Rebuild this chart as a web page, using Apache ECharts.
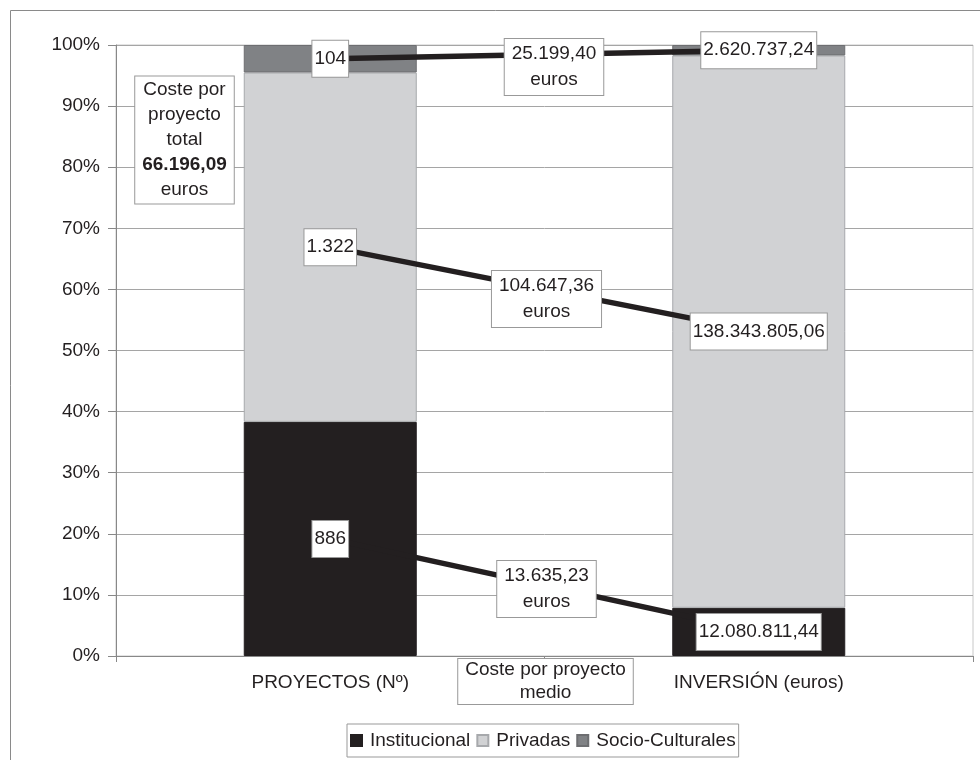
<!DOCTYPE html>
<html>
<head>
<meta charset="utf-8">
<script src="https://cdn.jsdelivr.net/npm/echarts@6/dist/echarts.min.js"></script>
<style>
  html, body { margin: 0; padding: 0; background: #fff; }
  #chart { width: 980px; height: 760px; }
</style>
</head>
<body>
<div id="chart"></div>
<script>
// datos
const categories = ['PROYECTOS (Nº)', 'INVERSIÓN (euros)'];
const decimals = [0, 2];
const seriesNames = ['Institucional', 'Privadas', 'Socio-Culturales'];
const institucional = [886, 12080811.44];
const privadas = [1322, 138343805.06];
const socioCulturales = [104, 2620737.24];
const yTicks = [0, 100, 10];

const FONT = 'Liberation Sans, Arial, sans-serif';
const colors = ['#231f20', '#d1d2d4', '#808285'];
const borders = ['#231f20', '#a7a9ac', '#6d6e71'];

function esNum (v, d) {
  const s = v.toFixed(d).split('.');
  const ent = s[0].replace(/\B(?=(\d{3})+(?!\d))/g, '.');
  return d ? ent + ',' + s[1] : ent;
}

const raw = [institucional, privadas, socioCulturales];
const totals = categories.map((c, i) => raw.reduce((a, r) => a + r[i], 0));
const pct = raw.map(r => r.map((v, i) => v / totals[i] * 100));
// centro de cada tramo apilado
const centers = pct.map((p, k) => p.map((v, i) => {
  let base = 0;
  for (let j = 0; j < k; j++) base += pct[j][i];
  return base + v / 2;
}));
// coste por proyecto = inversión / proyectos
const costes = raw.map(r => esNum(r[1] / r[0], 2));
const costeTotal = esNum(totals[1] / totals[0], 2);

const chart = echarts.init(document.getElementById('chart'));

const series = [];
seriesNames.forEach((name, k) => {
  series.push({
    name: name,
    type: 'bar',
    stack: 'total',
    data: pct[k],
    barWidth: 173,
    z: 2,
    itemStyle: { color: colors[k], borderColor: borders[k], borderWidth: 1 }
  });
});
seriesNames.forEach((name, k) => {
  series.push({
    name: 'enlace-' + k,
    type: 'line',
    data: centers[k],
    z: 3,
    silent: true,
    symbol: 'circle',
    symbolSize: 1,
    itemStyle: { color: 'rgba(0,0,0,0)' },
    lineStyle: { color: '#231f20', width: 5.5 },
    label: {
      show: true,
      position: 'inside',
      formatter: p => esNum(raw[k][p.dataIndex], decimals[p.dataIndex]),
      color: '#231f20',
      fontFamily: FONT,
      fontSize: 19,
      backgroundColor: '#fff',
      borderColor: '#999',
      borderWidth: 1,
      padding: [9, 2, 8, 2]
    }
  });
});

function box (x, y, text) {
  return {
    type: 'text',
    x: x,
    y: y,
    z: 100,
    silent: true,
    style: {
      text: text,
      fill: '#231f20',
      font: '19px ' + FONT,
      align: 'center',
      verticalAlign: 'middle',
      textAlign: 'center',
      textVerticalAlign: 'middle',
      lineHeight: 26,
      backgroundColor: '#fff',
      borderColor: '#999',
      borderWidth: 1,
      padding: [2, 7]
    }
  };
}

const graphics = [
  {
    type: 'rect',
    z: 0,
    silent: true,
    shape: { x: 10.5, y: 10.5, width: 1000, height: 1000 },
    style: { fill: 'none', stroke: '#8a8a8a', lineWidth: 1 }
  },
  box(554, 67, costes[2] + '\neuros'),
  box(546.5, 299, costes[1] + '\neuros'),
  box(546.5, 589, costes[0] + '\neuros'),
  box(545.5, 681.5, 'Coste por proyecto\nmedio'),
  box(184.5, 140, 'Coste por\nproyecto\ntotal\n{b|' + costeTotal + '}\neuros')
];
graphics[5].style.lineHeight = 25;
graphics[5].style.padding = [1, 7];
graphics[5].style.rich = { b: { fontWeight: 'bold', fontSize: 19, fontFamily: FONT, lineHeight: 25 } };
graphics[4].style.lineHeight = 22.5;
graphics[4].style.padding = [0, 7];

const option = {
  animation: false,
  textStyle: { fontFamily: FONT },
  grid: {
    left: 116,
    right: 7,
    top: 45,
    bottom: 104,
    show: true,
    borderColor: '#c8c8c8',
    borderWidth: 1,
    backgroundColor: 'transparent'
  },
  legend: {
    data: seriesNames,
    left: 347,
    top: 724,
    padding: [7, 3],
    itemGap: 6,
    itemWidth: 11,
    itemHeight: 11,
    icon: 'rect',
    borderColor: '#999',
    borderWidth: 1,
    backgroundColor: '#fff',
    textStyle: { fontFamily: FONT, fontSize: 19, color: '#231f20', padding: [0, 0, 0, 3] }
  },
  xAxis: {
    type: 'category',
    data: categories,
    axisLine: { lineStyle: { color: '#888' } },
    axisTick: { show: true, length: 6, lineStyle: { color: '#888' } },
    axisLabel: { color: '#231f20', fontSize: 19, fontFamily: FONT, margin: 17 }
  },
  yAxis: {
    type: 'value',
    min: yTicks[0],
    max: yTicks[1],
    interval: yTicks[2],
    axisLine: { show: true, lineStyle: { color: '#888' } },
    axisTick: { show: true, length: 8, lineStyle: { color: '#888' } },
    axisLabel: { color: '#231f20', fontSize: 19, fontFamily: FONT, margin: 16, formatter: '{value}%' },
    splitLine: { lineStyle: { color: '#a5a5a5' } }
  },
  series: series,
  graphic: graphics
};

chart.setOption(option);
</script>
</body>
</html>
